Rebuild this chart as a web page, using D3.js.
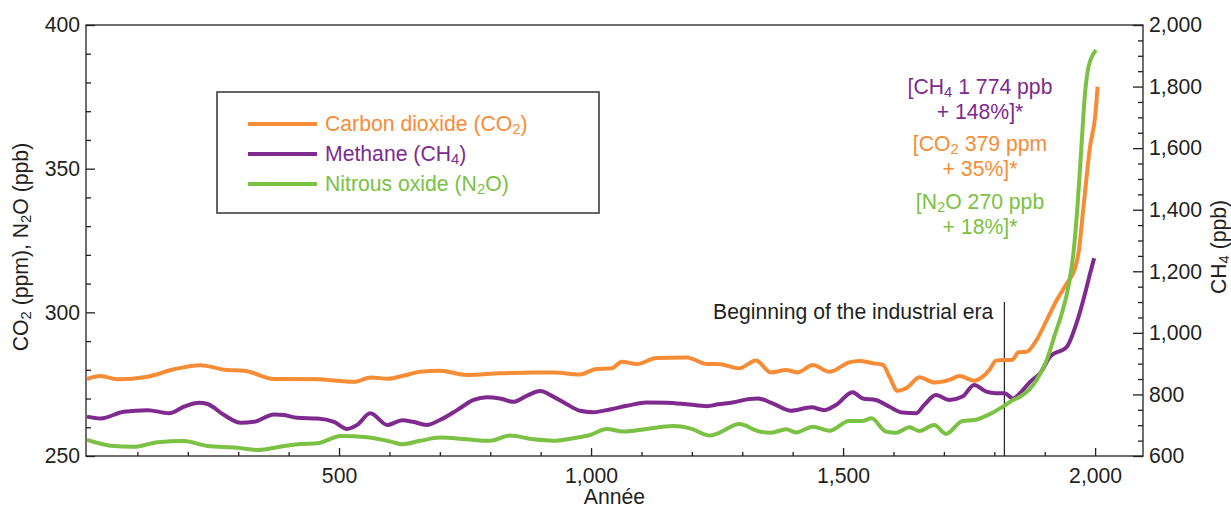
<!DOCTYPE html>
<html>
<head>
<meta charset="utf-8">
<script src="https://cdn.jsdelivr.net/npm/d3@7"></script>
<style>
  html, body { margin: 0; padding: 0; background: #fff; }
  svg { display: block; font-family: "Liberation Sans", Arial, Helvetica, sans-serif; }
</style>
</head>
<body>
<svg id="chart" width="1231" height="507"></svg>
<script>
// ---------- data ----------
const co2Years = [0,27,60,120,173,225,278,311,371,457,497,530,563,596,629,661,700,753,819,886,925,978,1011,1041,1061,1091,1130,1190,1230,1252,1294,1327,1357,1387,1410,1440,1473,1512,1532,1559,1579,1592,1608,1628,1651,1681,1711,1731,1760,1777,1792,1803,1818,1835,1848,1864,1884,1904,1924,1944,1960,1967,1977,1990,2000,2005];
const co2Values = [276.8,277.8,276.7,277.6,280.2,281.6,279.9,279.7,276.8,276.7,276.2,275.8,277.3,276.9,278.0,279.3,279.7,278.2,278.8,279.1,279.1,278.4,280.3,280.5,282.8,282.0,284.1,284.3,282.0,282.0,280.5,283.2,279.1,279.9,279.1,281.7,279.3,282.6,283.1,282.3,281.7,277.6,272.7,273.9,277.4,275.6,276.5,277.8,276.2,277.6,280.4,283.2,283.4,283.4,286.1,286.3,290.4,297.3,304.3,310.1,315.3,320.6,336.8,357.7,368.1,378.5];

const ch4Years = [0,27,73,120,163,192,222,239,272,305,331,371,391,417,457,490,516,536,562,596,625,647,674,700,734,767,793,819,846,872,899,925,952,978,1005,1031,1071,1110,1150,1190,1230,1252,1281,1314,1331,1360,1397,1437,1463,1486,1519,1539,1565,1592,1618,1645,1661,1684,1711,1737,1760,1784,1803,1820,1837,1851,1871,1891,1911,1944,1964,1980,1990,1998];
const ch4Values = [728,722,744,749,739,760,773,769,733,708,711,735,733,724,722,711,688,701,739,701,716,711,701,717,749,782,791,787,776,795,811,793,768,747,742,749,763,774,773,768,762,768,774,785,787,771,747,758,749,766,807,787,782,760,741,739,766,798,782,793,831,809,804,804,787,804,841,869,923,955,1036,1128,1193,1242];

const n2oYears = [0,47,93,140,192,239,298,338,391,424,457,503,556,603,625,661,700,753,800,839,886,925,965,998,1031,1064,1110,1163,1196,1236,1252,1294,1334,1357,1387,1407,1440,1473,1512,1539,1556,1585,1605,1632,1651,1681,1704,1737,1760,1790,1817,1837,1851,1884,1904,1921,1934,1947,1957,1965,1972,1980,1987,2002];
const n2oValues = [255.6,253.6,253.2,254.8,255.2,253.5,252.9,252.1,253.5,254.2,254.4,257.0,256.5,255.0,254.1,255.3,256.4,255.8,255.3,257.1,255.8,255.3,256.2,257.3,259.4,258.5,259.4,260.4,259.6,257.1,257.9,261.1,258.5,258.1,259.3,258.2,260.2,258.8,262.2,262.2,263.1,258.5,258.1,260.0,258.7,260.8,257.7,262.2,262.5,264.5,267.2,269.5,270.6,276.5,283.4,292.7,299.7,308.9,320.6,336.8,355.4,376.2,385.5,391.3];

const leftTicks = [250, 300, 350, 400];
const rightTicks = [600, 800, 1000, 1200, 1400, 1600, 1800, 2000];
const xTicks = [500, 1000, 1500, 2000];
const industrialYear = 1820;

const legendItems = [
  { name: "Carbon dioxide (", sub: "CO", subNum: "2", tail: ")", color: "#f68d36" },
  { name: "Methane (", sub: "CH", subNum: "4", tail: ")", color: "#7e2a8e" },
  { name: "Nitrous oxide (", sub: "N", subNum: "2", tail: "O)", color: "#7bc143" }
];
const notes = [
  { pre: "[CH", sub: "4", post: " 1 774 ppb", line2: "+ 148%]*", color: "#7e2a8e" },
  { pre: "[CO", sub: "2", post: " 379 ppm", line2: "+ 35%]*", color: "#f68d36" },
  { pre: "[N", sub: "2", post: "O 270 ppb", line2: "+ 18%]*", color: "#7bc143" }
];

// ---------- layout ----------
const svg = d3.select("#chart");
const L = 86, R = 1143, T = 25, B = 456;
const ink = "#231f20";
const fs = 21.2;

const x = d3.scaleLinear().domain([-2, 2095]).range([L, R]);
const yL = d3.scaleLinear().domain([250, 400]).range([B, T]);
const yR = d3.scaleLinear().domain([600, 2000]).range([B, T]);

const fmt = d3.format(",");

// frame
svg.append("rect").attr("x", L).attr("y", T).attr("width", R - L).attr("height", B - T)
  .attr("fill", "none").attr("stroke", ink).attr("stroke-width", 1.3);

function styleAxis(g) {
  g.select(".domain").remove();
  g.selectAll("line").attr("stroke", ink).attr("stroke-width", 1.3);
  g.selectAll("text").attr("fill", ink).style("font-size", fs + "px")
    .style("font-family", '"Liberation Sans", Arial, Helvetica, sans-serif');
}

// bottom axis
svg.append("g").attr("transform", `translate(0,${B})`)
  .call(d3.axisBottom(x).tickValues(d3.range(100, 2100, 100).filter(v => v % 500 !== 0)).tickSize(-4).tickFormat(""))
  .call(styleAxis);
svg.append("g").attr("transform", `translate(0,${B})`)
  .call(d3.axisBottom(x).tickValues(xTicks).tickSize(-8).tickPadding(12).tickFormat(fmt))
  .call(styleAxis);

// left axis
svg.append("g").attr("transform", `translate(${L},0)`)
  .call(d3.axisLeft(yL).tickValues(d3.range(250, 401, 10).filter(v => v % 50 !== 0)).tickSize(-5).tickFormat(""))
  .call(styleAxis);
svg.append("g").attr("transform", `translate(${L},0)`)
  .call(d3.axisLeft(yL).tickValues(leftTicks).tickSize(-9).tickPadding(6).tickFormat(fmt))
  .call(styleAxis);

// right axis
svg.append("g").attr("transform", `translate(${R},0)`)
  .call(d3.axisRight(yR).tickValues(d3.range(600, 2001, 50).filter(v => v % 200 !== 0)).tickSize(-5).tickFormat(""))
  .call(styleAxis);
svg.append("g").attr("transform", `translate(${R},0)`)
  .call(d3.axisRight(yR).tickValues(rightTicks).tickSize(-10).tickPadding(6).tickFormat(fmt))
  .call(styleAxis);

// axis titles
svg.append("text").attr("x", (L + R) / 2).attr("y", 504).attr("text-anchor", "middle")
  .attr("fill", ink).style("font-size", fs + "px").text("Année");

function subText(sel, parts) {
  parts.forEach(p => {
    const t = sel.append("tspan").text(p.t);
    if (p.sub) t.attr("baseline-shift", "-22%").style("font-size", "70%");
  });
}

const lt = svg.append("text").attr("transform", `translate(28,247) rotate(-90)`)
  .attr("text-anchor", "middle").attr("fill", ink).style("font-size", fs + "px");
subText(lt, [{t:"CO"},{t:"2",sub:true},{t:" (ppm), N"},{t:"2",sub:true},{t:"O (ppb)"}]);

const rt = svg.append("text").attr("transform", `translate(1226,247) rotate(-90)`)
  .attr("text-anchor", "middle").attr("fill", ink).style("font-size", fs + "px");
subText(rt, [{t:"CH"},{t:"4",sub:true},{t:" (ppb)"}]);

// industrial era marker
svg.append("line").attr("x1", x(industrialYear)).attr("x2", x(industrialYear))
  .attr("y1", 302).attr("y2", B).attr("stroke", ink).attr("stroke-width", 1.2);
svg.append("text").attr("x", x(industrialYear) - 11).attr("y", 319).attr("text-anchor", "end")
  .attr("fill", ink).style("font-size", fs + "px").text("Beginning of the industrial era");

// series lines
const co2 = co2Years.map((yr, i) => ({ x: yr, y: co2Values[i] }));
const ch4 = ch4Years.map((yr, i) => ({ x: yr, y: ch4Values[i] }));
const n2o = n2oYears.map((yr, i) => ({ x: yr, y: n2oValues[i] }));

const lineL = d3.line().x(d => x(d.x)).y(d => yL(d.y)).curve(d3.curveMonotoneX);
const lineR = d3.line().x(d => x(d.x)).y(d => yR(d.y)).curve(d3.curveMonotoneX);

svg.append("path").datum(co2).attr("d", lineL).attr("fill", "none")
  .attr("stroke", legendItems[0].color).attr("stroke-width", 4).attr("stroke-linejoin", "round");
svg.append("path").datum(ch4).attr("d", lineR).attr("fill", "none")
  .attr("stroke", legendItems[1].color).attr("stroke-width", 4).attr("stroke-linejoin", "round");
svg.append("path").datum(n2o).attr("d", lineL).attr("fill", "none")
  .attr("stroke", legendItems[2].color).attr("stroke-width", 4).attr("stroke-linejoin", "round");

// legend
svg.append("rect").attr("x", 217).attr("y", 92).attr("width", 382).attr("height", 121)
  .attr("fill", "#fff").attr("stroke", "#333").attr("stroke-width", 1.5);
legendItems.forEach((d, i) => {
  const yy = 124 + i * 30;
  svg.append("line").attr("x1", 248).attr("x2", 317).attr("y1", yy).attr("y2", yy)
    .attr("stroke", d.color).attr("stroke-width", 4);
  const t = svg.append("text").attr("x", 325).attr("y", yy + 7).attr("fill", d.color)
    .style("font-size", fs + "px");
  subText(t, [{t: d.name + d.sub}, {t: d.subNum, sub: true}, {t: d.tail}]);
});

// annotations
const noteBase = [94, 151, 209];
notes.forEach((d, i) => {
  const t1 = svg.append("text").attr("x", 980).attr("y", noteBase[i]).attr("text-anchor", "middle")
    .attr("fill", d.color).style("font-size", fs + "px");
  subText(t1, [{t: d.pre}, {t: d.sub, sub: true}, {t: d.post}]);
  svg.append("text").attr("x", 980).attr("y", noteBase[i] + 25).attr("text-anchor", "middle")
    .attr("fill", d.color).style("font-size", fs + "px").text(d.line2);
});
</script>
</body>
</html>
